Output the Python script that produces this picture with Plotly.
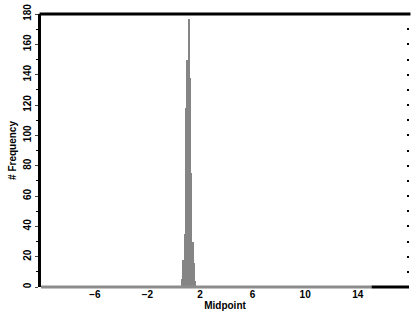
import plotly.graph_objects as go

# Histogram data (bin midpoints and counts)
midpoints = [0.65, 0.75, 0.85, 0.95, 1.05, 1.15, 1.25, 1.35, 1.45, 1.55, 1.65]
counts = [5, 18, 35, 118, 150, 177, 138, 75, 30, 16, 4]
bin_width = 0.1

# Extent of empty bins drawn as a gray baseline
baseline_start = -10.1
baseline_end = 15.05
x_min, x_max = -10.1, 17.9

x_ticks = [-6, -2, 2, 6, 10, 14]
y_ticks = [0, 20, 40, 60, 80, 100, 120, 140, 160, 180]

fig = go.Figure()
fig.add_trace(go.Bar(x=midpoints, y=counts, width=bin_width,
                     marker=dict(color="#858585", line=dict(width=0)),
                     showlegend=False))
# invisible trace for right-side tick axis
fig.add_trace(go.Scatter(x=[0], y=[0], yaxis="y2", mode="markers",
                         marker=dict(opacity=0), showlegend=False, hoverinfo="skip"))

font_fam = "Liberation Sans"
fig.update_layout(
    width=411, height=327,
    margin=dict(l=41, r=2, t=14, b=40),
    plot_bgcolor="white", paper_bgcolor="white",
    bargap=0,
    xaxis=dict(range=[x_min, x_max], tickvals=x_ticks,
               ticktext=[("−" + str(-v)) if v < 0 else str(v) for v in x_ticks],
               showline=False, showgrid=False, zeroline=False, ticks="",
               tickfont=dict(family=font_fam, size=10, color="black", weight="bold"),
               title=dict(text="Midpoint", font=dict(family=font_fam, size=10, color="black", weight="bold"),
                          standoff=2)),
    yaxis=dict(range=[0, 180], tickvals=y_ticks, tickangle=-90,
               showline=True, linecolor="black", linewidth=3,
               showgrid=False, zeroline=False, ticks="outside", ticklen=3, tickwidth=1,
               minor=dict(dtick=10, ticks="outside", ticklen=2, tickcolor="black"),
               tickfont=dict(family=font_fam, size=10, color="black", weight="bold"),
               title=dict(text="# Frequency", font=dict(family=font_fam, size=10, color="black", weight="bold"),
                          standoff=4)),
    yaxis2=dict(range=[0, 180], overlaying="y", side="right", showline=False,
                showgrid=False, zeroline=False, showticklabels=False,
                tickvals=y_ticks[1:-1] + [10, 30, 50, 70, 90, 110, 130, 150, 170],
                ticks="inside", ticklen=2, tickwidth=2, tickcolor="black"),
    shapes=[
        # top frame line
        dict(type="line", xref="paper", yref="paper", x0=-0.004, x1=1.004, y0=1, y1=1,
             line=dict(color="black", width=3), layer="above"),
        # bottom axis: gray (empty bins) then black
        dict(type="line", xref="x", yref="paper", x0=baseline_start, x1=baseline_end, y0=0, y1=0,
             line=dict(color="#8c8c8c", width=3), layer="above"),
        dict(type="line", xref="x", yref="paper", x0=baseline_end, x1=x_max, y0=0, y1=0,
             line=dict(color="black", width=3), layer="above"),
    ],
)

fig.write_html("out.html")
